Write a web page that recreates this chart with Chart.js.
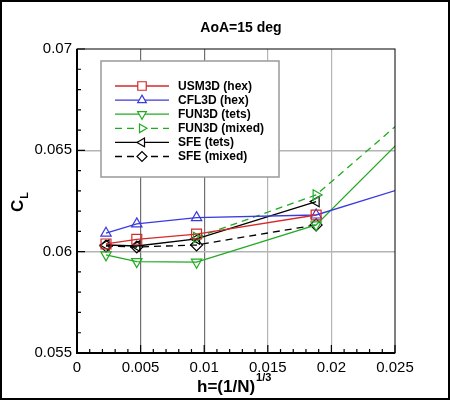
<!DOCTYPE html>
<html lang="en">
<head>
  <meta charset="UTF-8">
  <title>AoA=15 deg - CL convergence</title>
  <script src="https://cdn.jsdelivr.net/npm/chart.js"></script>
  <style>
    body {
      margin: 0;
      background-color: #fff;
    }
    #chart {
      display: block;
    }
  </style>
</head>
<body>
  <canvas id="chart" width="450" height="400"></canvas>

  <script>
    // grid spacing h=(1/N)^(1/3)
    const h = [0.00228, 0.0047, 0.0094, 0.0188];
    const hExt = [0.00228, 0.0047, 0.0094, 0.0188, 0.0376];   // series that run past the right edge
    const hMixed = [0.0094, 0.0188, 0.0376];

    const usm3dHex = [0.06038, 0.06061, 0.06087, 0.06181];
    const cfl3dHex = [0.06091, 0.06137, 0.06168, 0.06181, 0.06545];
    const fun3dTets = [0.05984, 0.05951, 0.05948, 0.06132, 0.0731];
    const fun3dMixed = [0.0607, 0.0628, 0.0730];
    const sfeTets = [0.06033, 0.06028, 0.06063, 0.06247];
    const sfeMixed = [0.06028, 0.06023, 0.06033, 0.06132];

    const seriesNames = ['USM3D (hex)', 'CFL3D (hex)', 'FUN3D (tets)', 'FUN3D (mixed)', 'SFE (tets)', 'SFE (mixed)'];

    const xTicks = [0, 0.005, 0.01, 0.015, 0.02, 0.025];
    const yTicks = [0.055, 0.06, 0.065, 0.07];

    const RED = '#d42a2a', BLUE = '#3a3ae0', GREEN = '#22aa22', BLACK = '#000';
    const FONT = '"Liberation Sans", Arial, Helvetica, sans-serif';

    function pts(xs, ys) {
      return ys.map((y, i) => ({ x: xs[i], y: y }));
    }

    function series(label, xs, ys, color, style, rot, dash, radius) {
      return {
        label: label,
        data: pts(xs, ys),
        showLine: true,
        borderColor: color,
        borderWidth: 1.3,
        borderDash: dash || [],
        pointStyle: style,
        rotation: rot,
        pointRadius: radius,
        pointHoverRadius: radius,
        pointBorderColor: color,
        pointBackgroundColor: 'rgba(0,0,0,0)',
        pointBorderWidth: 1.2,
        tension: 0
      };
    }

    const datasets = [
      series(seriesNames[0], h, usm3dHex, RED, 'rect', 0, null, 7),
      series(seriesNames[1], hExt, cfl3dHex, BLUE, 'triangle', 0, null, 6),
      series(seriesNames[2], hExt, fun3dTets, GREEN, 'triangle', 180, null, 6),
      series(seriesNames[3], hMixed, fun3dMixed, GREEN, 'triangle', 90, [7, 5], 6),
      series(seriesNames[4], h, sfeTets, BLACK, 'triangle', -90, null, 6),
      series(seriesNames[5], h, sfeMixed, BLACK, 'rectRot', 0, [7, 5], 6)
    ];

    function fmt(v) {
      return String(+Number(v).toFixed(4));
    }

    // frame, inward ticks, legend box and titles
    const decor = {
      id: 'decor',
      afterDraw(chart) {
        const ctx = chart.ctx;
        const a = chart.chartArea;
        const xs = chart.scales.x, ys = chart.scales.y;
        ctx.save();

        // plot frame
        ctx.strokeStyle = '#000';
        ctx.lineWidth = 1;
        ctx.strokeRect(a.left, a.top, a.right - a.left, a.bottom - a.top);
        ctx.lineWidth = 2;
        ctx.beginPath();
        ctx.moveTo(a.left, a.top);
        ctx.lineTo(a.left, a.bottom);
        ctx.lineTo(a.right, a.bottom);
        ctx.stroke();

        // ticks, pointing in
        ctx.lineWidth = 1.2;
        ctx.beginPath();
        for (let i = 0; i <= 25; i++) {
          const px = xs.getPixelForValue(i * 0.001);
          const len = i % 5 === 0 ? 8 : 4;
          ctx.moveTo(px, a.bottom);
          ctx.lineTo(px, a.bottom - len);
        }
        for (let i = 0; i <= 15; i++) {
          const py = ys.getPixelForValue(0.055 + i * 0.001);
          const len = i % 5 === 0 ? 8 : 4;
          ctx.moveTo(a.left, py);
          ctx.lineTo(a.left + len, py);
        }
        ctx.stroke();

        // legend
        const bx = 101, by = 61, bw = 178, bh = 116;
        ctx.fillStyle = '#fff';
        ctx.fillRect(bx, by, bw, bh);
        ctx.strokeStyle = '#999';
        ctx.lineWidth = 1.5;
        ctx.strokeRect(bx, by, bw, bh);
        ctx.font = 'bold 12px ' + FONT;
        ctx.textBaseline = 'middle';
        ctx.textAlign = 'left';
        chart.data.datasets.forEach((ds, i) => {
          const y = 86 + i * 14.1;
          ctx.strokeStyle = ds.borderColor;
          ctx.lineWidth = 1.3;
          ctx.setLineDash(ds.borderDash);
          ctx.beginPath();
          ctx.moveTo(115, y);
          ctx.lineTo(169, y);
          ctx.stroke();
          ctx.setLineDash([]);
          ctx.fillStyle = '#fff';
          ctx.lineWidth = 1.2;
          Chart.helpers.drawPoint(ctx, {
            pointStyle: ds.pointStyle,
            rotation: ds.rotation,
            radius: ds.pointRadius - 1,
            borderWidth: 1.2
          }, 142, y);
          ctx.fillStyle = '#000';
          ctx.fillText(ds.label, 178, y + 0.5);
        });

        // title
        ctx.fillStyle = '#000';
        ctx.textAlign = 'center';
        ctx.font = 'bold 14px ' + FONT;
        ctx.fillText('AoA=15 deg', 241, 28);

        // x title with superscript
        ctx.textAlign = 'left';
        ctx.font = 'bold 17px ' + FONT;
        const main = 'h=(1/N)';
        ctx.fillText(main, 197, 387);
        const w = ctx.measureText(main).width;
        ctx.font = 'bold 11px ' + FONT;
        ctx.fillText('1/3', 197 + w + 1, 378);

        // y title C_L, rotated
        ctx.translate(18, 212);
        ctx.rotate(-Math.PI / 2);
        ctx.font = 'bold 17px ' + FONT;
        ctx.fillText('C', 0, 0);
        const cw = ctx.measureText('C').width;
        ctx.font = 'bold 11px ' + FONT;
        ctx.fillText('L', cw + 1, 7);
        ctx.setTransform(1, 0, 0, 1, 0, 0);

        // outer border of the picture
        ctx.strokeStyle = '#000';
        ctx.lineWidth = 2;
        ctx.strokeRect(1, 1, chart.width - 2, chart.height - 2);
        ctx.restore();
      }
    };

    const ctx = document.getElementById('chart').getContext('2d');
    const chart = new Chart(ctx, {
      type: 'scatter',
      data: { datasets: datasets },
      options: {
        responsive: false,
        animation: false,
        events: [],
        layout: { padding: { left: 0, top: 49, right: 55, bottom: 0 } },
        plugins: {
          legend: { display: false },
          title: { display: false },
          tooltip: { enabled: false }
        },
        scales: {
          x: {
            type: 'linear',
            min: xTicks[0],
            max: xTicks[xTicks.length - 1],
            afterFit: s => { s.height = 47; },
            afterBuildTicks: s => { s.ticks = xTicks.map(v => ({ value: v })); },
            border: { display: false },
            grid: {
              drawTicks: false,
              lineWidth: 1.2,
              color: c => {
                const v = c.tick ? c.tick.value : 0;
                if (v < 0.0001 || v > 0.0249) return 'rgba(0,0,0,0)';
                return v < 0.012 ? '#707070' : '#b4b4b4';
              }
            },
            ticks: {
              autoSkip: false,
              maxRotation: 0,
              padding: 6,
              color: '#000',
              font: { family: FONT, size: 15 },
              callback: v => fmt(v)
            }
          },
          y: {
            type: 'linear',
            min: yTicks[0],
            max: yTicks[yTicks.length - 1],
            afterFit: s => { s.width = 77; },
            afterBuildTicks: s => { s.ticks = yTicks.map(v => ({ value: v })); },
            border: { display: false },
            grid: {
              drawTicks: false,
              lineWidth: 1.5,
              color: c => {
                const v = c.tick ? c.tick.value : 0;
                if (v < 0.0551 || v > 0.0699) return 'rgba(0,0,0,0)';
                return '#b4b4b4';
              }
            },
            ticks: {
              autoSkip: false,
              padding: 5,
              color: '#000',
              font: { family: FONT, size: 15 },
              callback: v => fmt(v)
            }
          }
        }
      },
      plugins: [decor]
    });
  </script>
</body>
</html>
